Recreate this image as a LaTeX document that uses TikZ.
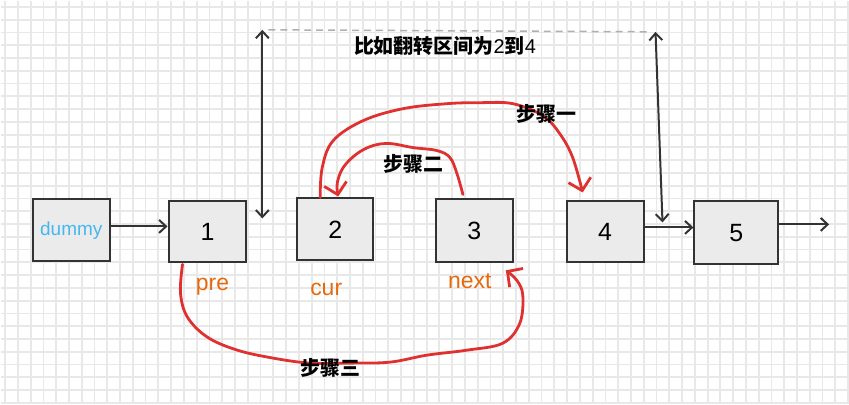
\documentclass[tikz,border=0pt]{standalone}
\usepackage{fontspec}
\setmainfont{Liberation Sans}
\newfontfamily\cjkfont{Noto Sans CJK SC}
\usetikzlibrary{arrows.meta}
\definecolor{gridc}{HTML}{E8E8E8}
\definecolor{boxfill}{HTML}{EBEBEB}
\definecolor{boxline}{HTML}{333333}
\definecolor{stepred}{HTML}{E03131}
\definecolor{varorange}{HTML}{E8690C}
\definecolor{dummyblue}{HTML}{45B8F0}
\definecolor{dashgray}{HTML}{B0B0B0}
\begin{document}
\begin{tikzpicture}[x=1pt,y=-1pt,
  box/.style={draw=boxline, fill=boxfill, line width=2pt, minimum width=77pt,
    minimum height=62pt, inner sep=0pt, font=\fontsize{25}{25}\selectfont},
  barb/.tip={Straight Barb[length=7pt,width=13pt,line width=2pt]},
  redbarb/.tip={Straight Barb[length=11pt,width=23pt,line width=2.8pt]},
  link/.style={draw=boxline, line width=2pt, -barb},
  bracket/.style={draw=boxline, line width=2pt, barb-barb},
  stepcurve/.style={draw=stepred, line width=2.8pt, line cap=round, -redbarb},
  steplabel/.style={font=\cjkfont\bfseries\fontsize{20}{20}\selectfont, text=black},
  varlabel/.style={font=\fontsize{23}{23}\selectfont, text=varorange}]

% squared paper background
\fill[white] (0,0) rectangle (849,404);
\foreach \i in {0,...,66} \draw[gridc, line width=1.8pt] (4.2+\i*12.8,0) -- (4.2+\i*12.8,404);
\foreach \j in {0,...,31} \draw[gridc, line width=1.8pt] (0,6+\j*12.8) -- (849,6+\j*12.8);
\useasboundingbox (0,0) rectangle (849,404);

% list nodes
\node[box, text=dummyblue, font=\fontsize{19}{19}\selectfont] (dummy) at (70.5,230) {dummy};
\node[box, minimum width=78pt, minimum height=61pt] (n1) at (207,231.5) {1};
\node[box, minimum width=76pt] (n2) at (335,229) {2};
\node[box, minimum height=63pt] (n3) at (474.5,230.5) {3};
\node[box, minimum height=61pt] (n4) at (605.5,231.5) {4};
\node[box, minimum width=84pt, minimum height=63pt] (n5) at (737,232.5) {5};
\coordinate (tail) at (830,224);

% next pointers
\draw[link] ([shift={(0,-4)}]dummy.east) -- ([shift={(0,-4)}]dummy.east -| n1.west);
\draw[link] ([shift={(0,-4.5)}]n4.east) -- ([shift={(0,-4.5)}]n4.east -| n5.west);
\draw[link] (n5.east |- tail) -- (tail);

% reversal range markers
\coordinate (lt) at (262,29);
\coordinate (lb) at (262,218);
\coordinate (rt) at (656,31);
\coordinate (rb) at (663,222);
\draw[bracket] (lb) -- (lt);
\draw[bracket] (rb) -- (rt);
\draw[dashgray, line width=1.5pt, dash pattern=on 7pt off 5pt] ([shift={(6,0)}]lt) -- ([shift={(-6,0)}]rt);
\node[steplabel] (range) at (445,45) {比如翻转区间为{\mdseries\rmfamily 2}到{\mdseries\rmfamily 4}};

% step 1: cur.next = next.next
\draw[stepcurve] plot[smooth, tension=0.6] coordinates {([shift={(-15,0)}]n2.north) (322,167) (333,140) (363,120) (403,108) (447,103) (480,102) (513,103) (543,115) (560,133) (573,157) ([shift={(-22.5,-8)}]n4.north)};
\node[steplabel] (s1) at (547,113) {步骤一};

% step 2: next.next = pre.next
\draw[stepcurve] plot[smooth, tension=0.6] coordinates {([shift={(-11.5,-4)}]n3.north) (457,173) (450,157) (437,150) (413,147) (390,143) (373,145) (357,153) (343,167) (337,183) ([shift={(3,-1)}]n2.north)};
\node[steplabel] (s2) at (413,163) {步骤二};

% step 3: pre.next = next
\draw[stepcurve] plot[smooth, tension=0.6] coordinates {([shift={(-25,1)}]n1.south) (180,293) (187,317) (207,337) (237,350) (273,358) (310,363) (350,363) (390,362) (427,355) (467,350) (503,343) (520,323) (523,295) (517,280) ([shift={(31.5,7)}]n3.south)};
\node[steplabel] (s3) at (330,368) {步骤三};

% pointer names
\node[varlabel] (pre) at (212,286) {pre};
\node[varlabel] (cur) at (326,289) {cur};
\node[varlabel] (nxt) at (470,281) {next};
\end{tikzpicture}
\end{document}
